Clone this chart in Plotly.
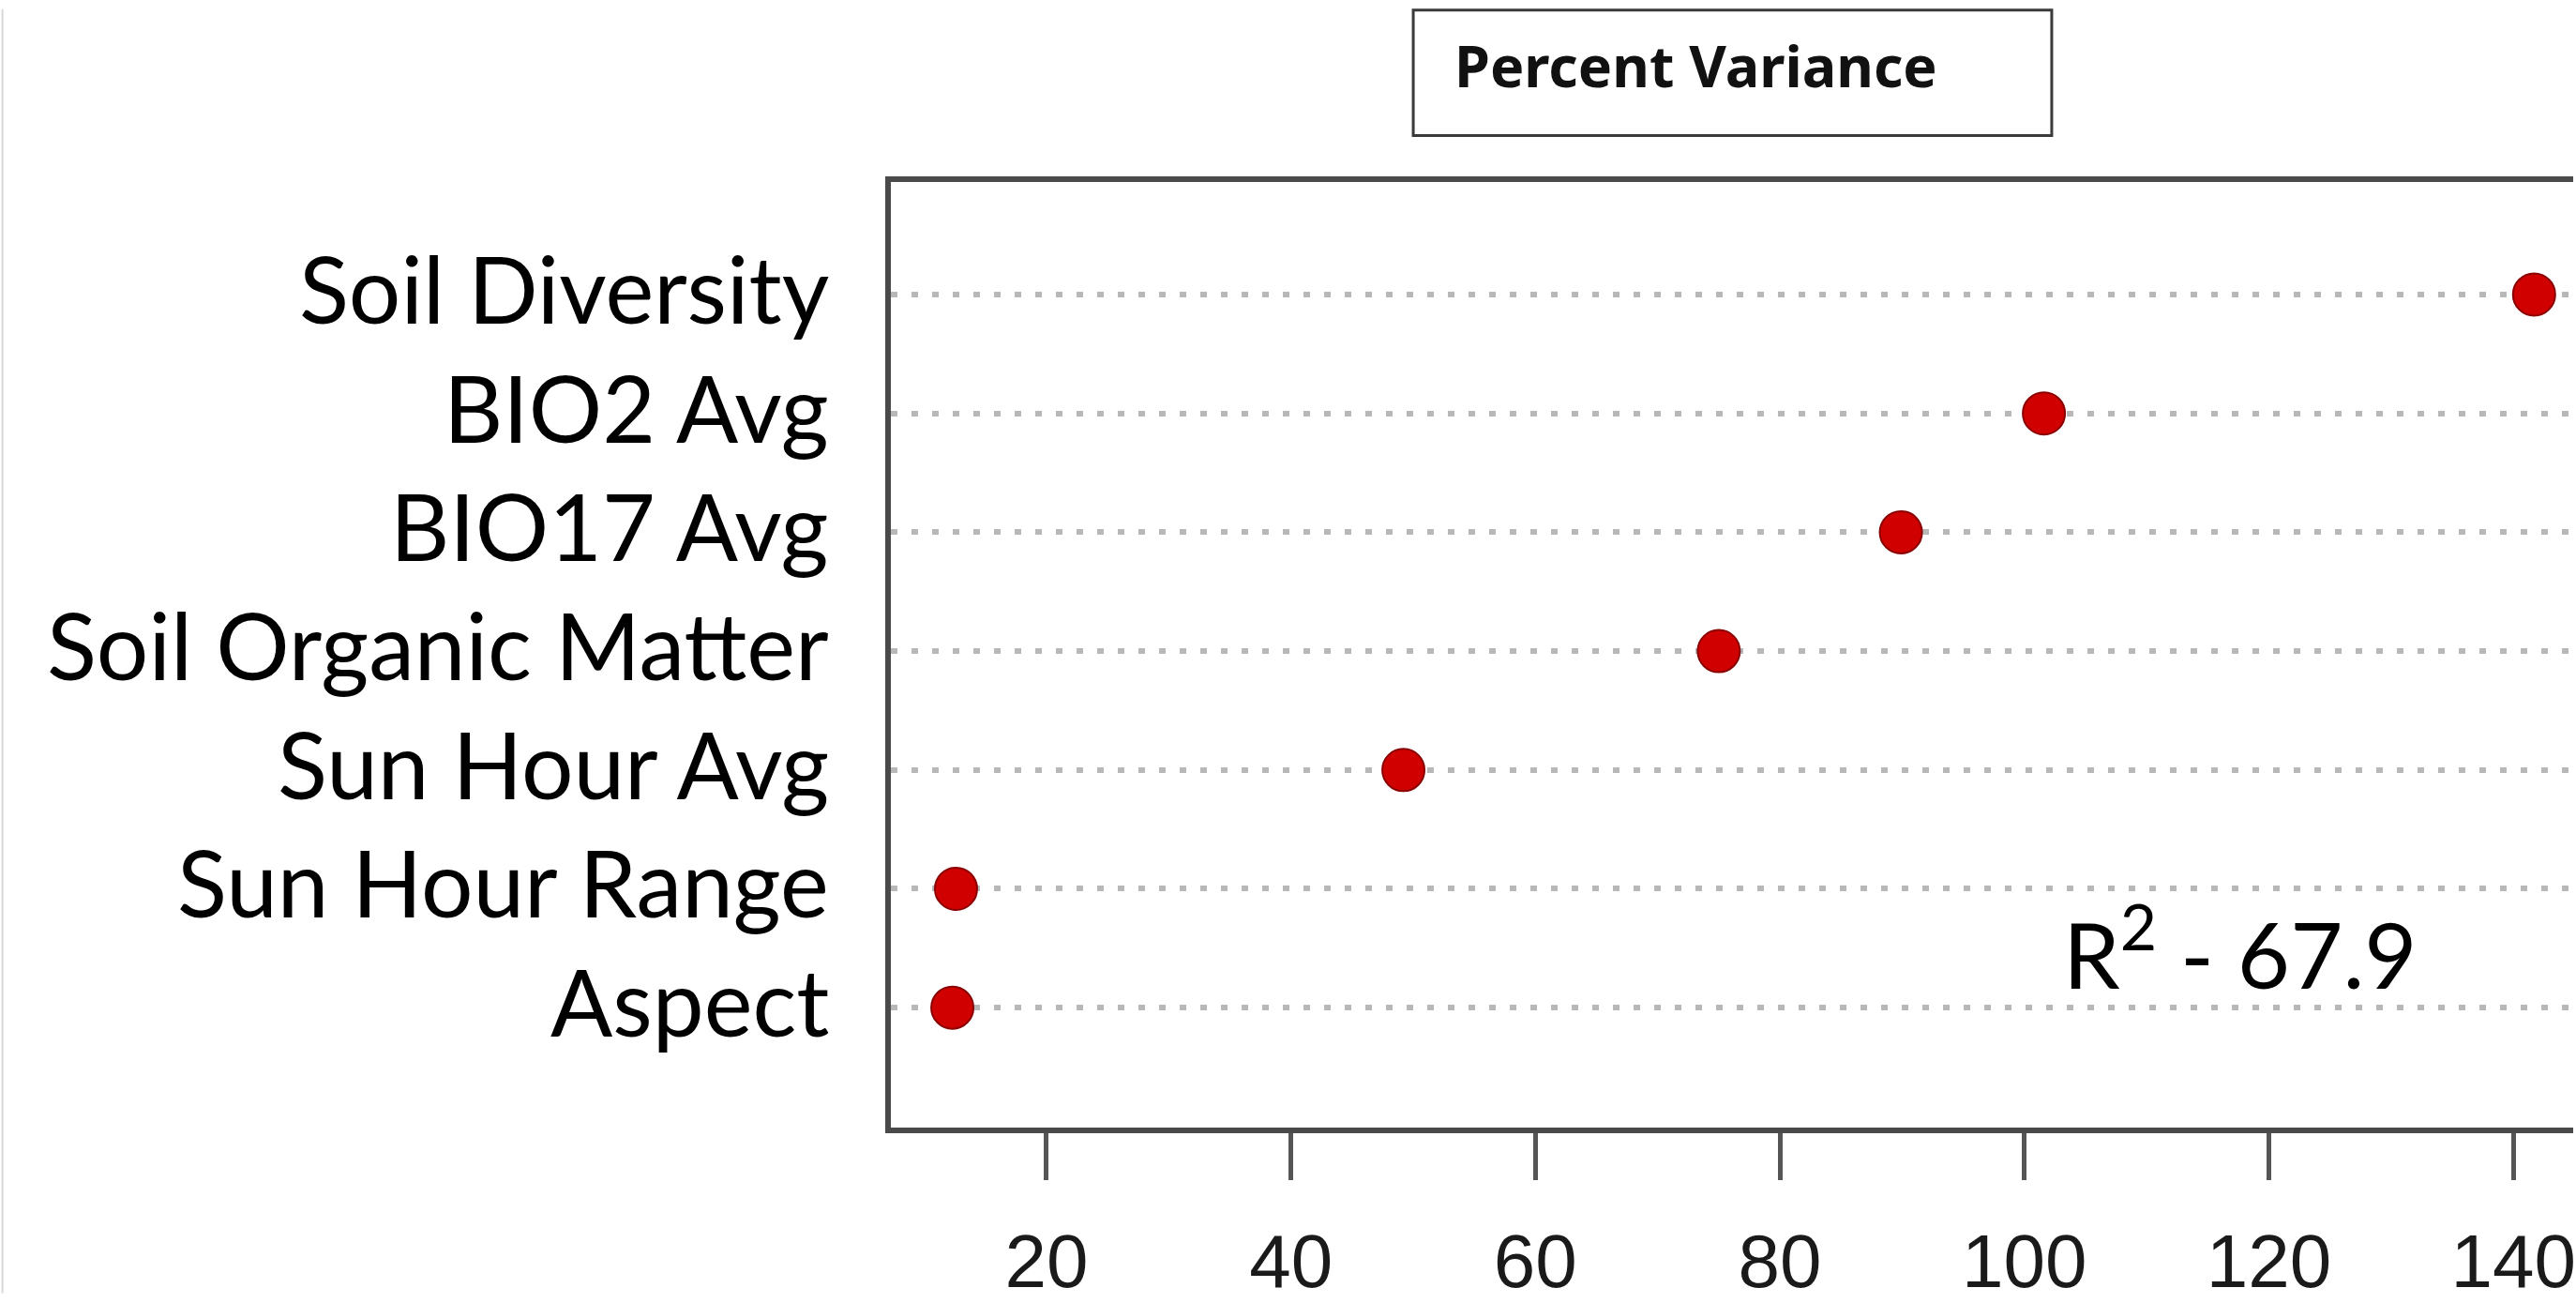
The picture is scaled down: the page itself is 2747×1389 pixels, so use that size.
import plotly.graph_objects as go

# ---- data ----
categories = ["Aspect", "Sun Hour Range", "Sun Hour Avg", "Soil Organic Matter",
              "BIO17 Avg", "BIO2 Avg", "Soil Diversity"]
percent_variance = [12.3, 12.6, 49.2, 75.0, 89.9, 101.6, 141.7]
x_tick_values = [20, 40, 60, 80, 100, 120, 140]
x_tick_labels = ["20", "40", "60", "80", "100", "120", "140"]
legend_title = "Percent Variance"
r2_label = "R<sup>2</sup> - 67.9"

# the page body margin is removed by the post script, so screen == figure pixels
W, H = 2747, 1389
ML, MT, MB, MR = 950, 194, H - 1211, 0
PW = W - ML - MR
PH = H - MT - MB


def px(sx):
    return (sx - ML) / PW


def py(sy):
    return (H - MB - sy) / PH


fig = go.Figure()
fig.add_trace(go.Scatter(
    x=percent_variance, y=categories, mode="markers",
    marker=dict(size=45, color="#d00000", line=dict(color="#8a0000", width=2)),
    showlegend=False, hoverinfo="x+y",
))

annotations = [
    dict(text=c, xref="paper", yref="y", x=px(886), y=c,
         xanchor="right", yanchor="middle", yshift=7, showarrow=False,
         font=dict(family="Lato, Carlito, Calibri, sans-serif", size=98, color="black"))
    for c in categories
]
annotations += [
    dict(text="<b>" + legend_title + "</b>", xref="paper", yref="paper",
         x=px(1550), y=py(68), xanchor="left", yanchor="middle", showarrow=False,
         font=dict(family="Noto Sans, sans-serif", size=61, color="#111111")),
    dict(text=r2_label, xref="x", yref="y",
         x=103.0, y=0.5, xanchor="left", yanchor="middle", showarrow=False,
         font=dict(family="Lato, Carlito, Calibri, sans-serif", size=97, color="black")),
]

fig.update_layout(
    width=W, height=H,
    margin=dict(l=ML, r=MR, t=MT, b=MB, pad=0),
    paper_bgcolor="white", plot_bgcolor="white",
    xaxis=dict(
        range=[7.27, 144.9], tickvals=x_tick_values, ticktext=x_tick_labels,
        showgrid=False, zeroline=False,
        showline=True, mirror=True, linecolor="#4a4a4a", linewidth=6,
        ticks="outside", ticklen=50, tickwidth=5, tickcolor="#555555",
        tickfont=dict(family="Liberation Sans Narrow, Liberation Sans, Arial", size=80, color="#1a1a1a"),
        ticklabelstandoff=18, ticklabeloverflow="allow",
    ),
    yaxis=dict(
        type="category", categoryorder="array", categoryarray=categories,
        range=[-1.009, 6.947],
        showgrid=True, gridcolor="#b8b8b8", gridwidth=6, griddash="7px,15px",
        zeroline=False,
        showline=True, linecolor="#4a4a4a", linewidth=6,
        ticks="", showticklabels=False,
    ),
    shapes=[
        dict(type="rect", xref="paper", yref="paper",
             x0=px(1508), x1=px(2190), y0=py(144), y1=py(9),
             line=dict(color="#3a3a3a", width=3), fillcolor="white", layer="above"),
        dict(type="line", xref="paper", yref="paper",
             x0=px(1), x1=px(1), y0=py(1389), y1=py(8),
             line=dict(color="#d8d8d8", width=2)),
    ],
    annotations=annotations,
)

fig.write_html(
    "out.html",
    config={"displayModeBar": False},
    post_script="document.body.style.margin='0';document.body.style.overflow='hidden';",
)
